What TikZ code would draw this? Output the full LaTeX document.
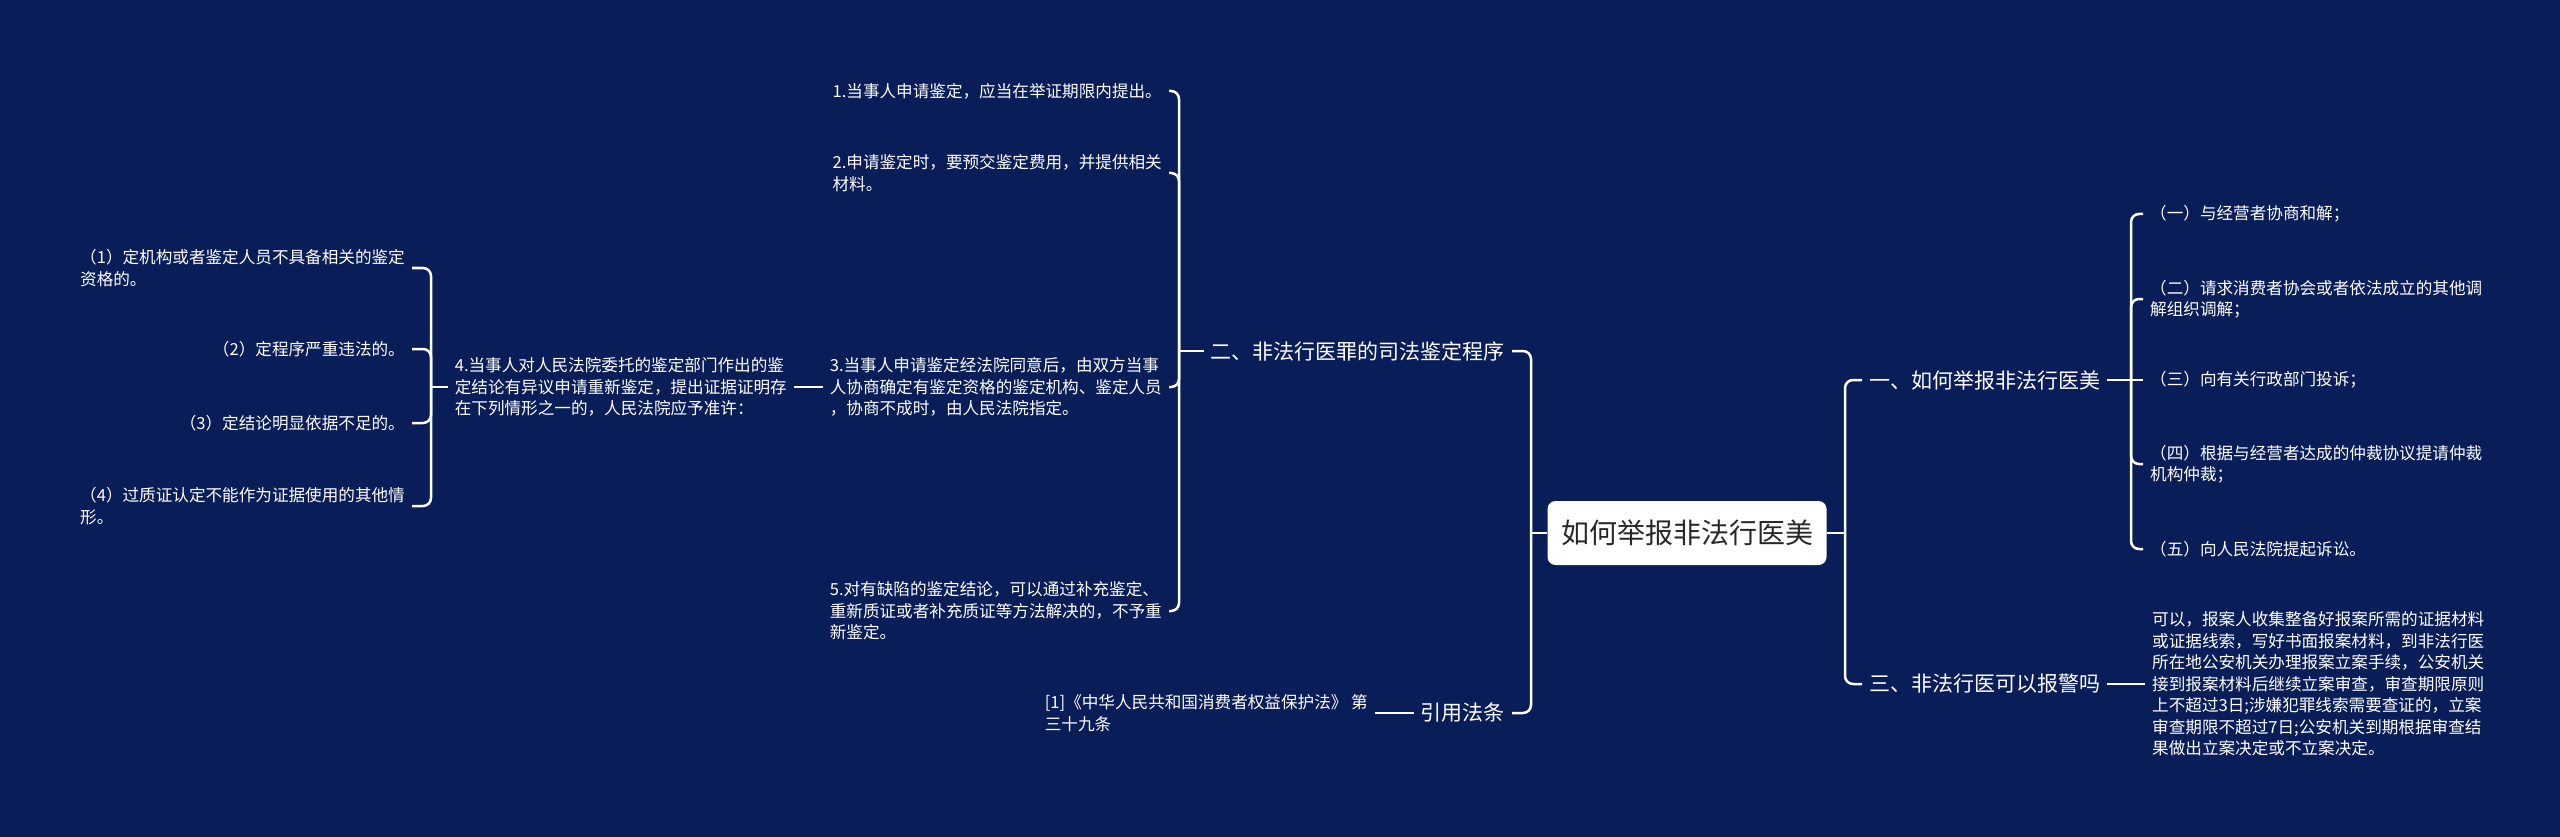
\documentclass[tikz,border=0pt]{standalone}
\usepackage{fontspec}
\newfontfamily\cjk{Noto Sans CJK SC}
\definecolor{bg}{RGB}{9,29,88}
\definecolor{rootc}{RGB}{40,40,40}
\begin{document}
\begin{tikzpicture}[x=1pt,y=-1pt,
  conn/.style={draw=white, line width=2.5pt, rounded corners=8pt},
  small/.style={text=white, font=\cjk\fontsize{16.6}{21.5}\selectfont, align=left, inner xsep=7pt, inner ysep=2pt},
  mid/.style={text=white, font=\cjk\fontsize{21}{26}\selectfont, inner xsep=7pt, inner ysep=2pt},
  rootbox/.style={fill=white, rounded corners=8pt, text=rootc, font=\cjk\fontsize{28}{34}\selectfont, minimum width=279pt, minimum height=64pt}]
\fill[bg] (0,0) rectangle (2560,837);
\useasboundingbox (0,0) rectangle (2560,837);

% root and main branches
\node[rootbox] (R) at (1687,533) {如何举报非法行医美};
\node[mid, anchor=east] (B2) at (1512,351) {二、非法行医罪的司法鉴定程序};
\node[mid, anchor=east] (BR) at (1512,713) {引用法条};
\node[mid, anchor=west] (B1) at (1862,380) {一、如何举报非法行医美};
\node[mid, anchor=west] (B3) at (1862,684) {三、非法行医可以报警吗};

% right items
\node[small, anchor=west] (R1) at (2143,214) {（一）与经营者协商和解；};
\node[small, anchor=west] (R2) at (2143,299) {（二）请求消费者协会或者依法成立的其他调\\解组织调解；};
\node[small, anchor=west] (R3) at (2143,380) {（三）向有关行政部门投诉；};
\node[small, anchor=west] (R4) at (2143,464) {（四）根据与经营者达成的仲裁协议提请仲裁\\机构仲裁；};
\node[small, anchor=west] (R5) at (2143,549) {（五）向人民法院提起诉讼。};
\node[small, anchor=west] (T3) at (2145,684) {可以，报案人收集整备好报案所需的证据材料\\或证据线索，写好书面报案材料，到非法行医\\所在地公安机关办理报案立案手续，公安机关\\接到报案材料后继续立案审查，审查期限原则\\上不超过3日;涉嫌犯罪线索需要查证的，立案\\审查期限不超过7日;公安机关到期根据审查结\\果做出立案决定或不立案决定。};

% left items
\node[small, anchor=east] (L1) at (1169,91) {1.当事人申请鉴定，应当在举证期限内提出。};
\node[small, anchor=east] (L2) at (1169,173) {2.申请鉴定时，要预交鉴定费用，并提供相关\\材料。};
\node[small, anchor=east] (L3) at (1169,387) {3.当事人申请鉴定经法院同意后，由双方当事\\人协商确定有鉴定资格的鉴定机构、鉴定人员\\，协商不成时，由人民法院指定。};
\node[small, anchor=east] (L5) at (1169,611) {5.对有缺陷的鉴定结论，可以通过补充鉴定、\\重新质证或者补充质证等方法解决的，不予重\\新鉴定。};
\node[small, anchor=east] (N4) at (794,387) {4.当事人对人民法院委托的鉴定部门作出的鉴\\定结论有异议申请重新鉴定，提出证据证明存\\在下列情形之一的，人民法院应予准许：};
\node[small, anchor=east] (K1) at (412,268) {（1）定机构或者鉴定人员不具备相关的鉴定\\资格的。};
\node[small, anchor=east] (K2) at (412,349) {（2）定程序严重违法的。};
\node[small, anchor=east] (K3) at (412,423) {（3）定结论明显依据不足的。};
\node[small, anchor=east] (K4) at (412,506) {（4）过质证认定不能作为证据使用的其他情\\形。};
\node[small, anchor=east] (RF) at (1375,713) {[1]《中华人民共和国消费者权益保护法》 第\\三十九条};

% spine coordinates
\coordinate (sL) at (1531,533);
\coordinate (sR) at (1845,533);
\coordinate (s1) at (2131,380);
\coordinate (s2) at (1179,351);
\coordinate (s4) at (431,387);

% root connectors
\draw[conn] (R.west) -- (sL);
\draw[conn] (sL) |- (B2.east);
\draw[conn] (sL) |- (BR.east);
\draw[conn] (R.east) -- (sR);
\draw[conn] (sR) |- (B1.west);
\draw[conn] (sR) |- (B3.west);

% branch one
\draw[conn] (B1.east) -- (s1);
\draw[conn] (s1) |- (R1.west);
\draw[conn] (s1) |- (R2.west);
\draw[conn] (s1) -- (R3.west);
\draw[conn] (s1) |- (R4.west);
\draw[conn] (s1) |- (R5.west);

% branch three
\draw[conn] (B3.east) -- (T3.west);

% branch two
\draw[conn] (B2.west) -- (s2);
\draw[conn] (s2) |- (L1.east);
\draw[conn] (s2) |- (L2.east);
\draw[conn] (s2) |- (L3.east);
\draw[conn] (s2) |- (L5.east);
\draw[conn] (L3.west) -- (N4.east);
\draw[conn] (N4.west) -- (s4);
\draw[conn] (s4) |- (K1.east);
\draw[conn] (s4) |- (K2.east);
\draw[conn] (s4) |- (K3.east);
\draw[conn] (s4) |- (K4.east);

% reference branch
\draw[conn] (BR.west) -- (RF.east);
\end{tikzpicture}
\end{document}
